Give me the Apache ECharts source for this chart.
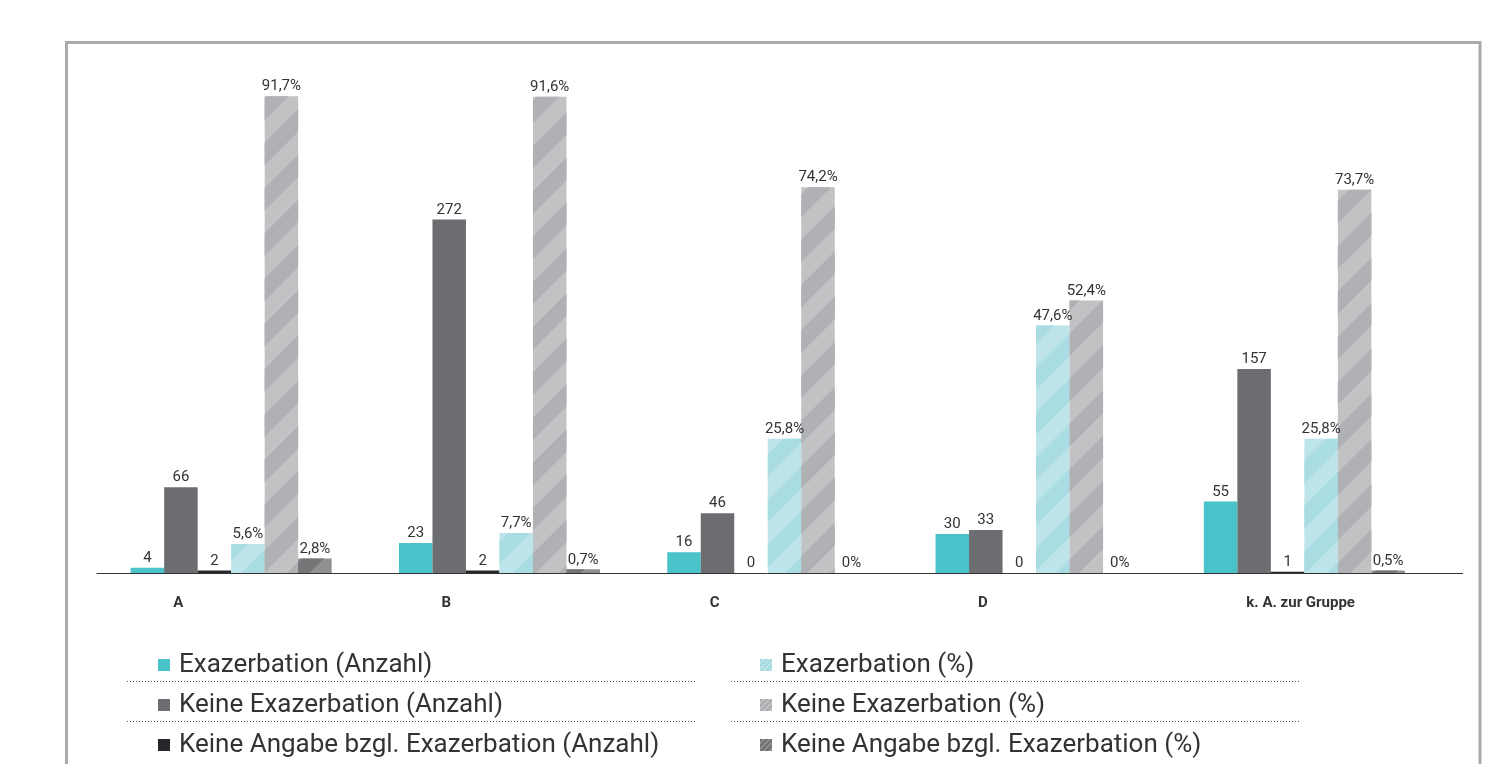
<!DOCTYPE html>
<html>
<head>
<meta charset="utf-8">
<script src="https://cdn.jsdelivr.net/npm/echarts@6/dist/echarts.min.js"></script>
<style>
  html, body { margin: 0; padding: 0; background: #fff; }
  #chart { width: 1509px; height: 764px; }
</style>
</head>
<body>
<div id="chart"></div>
<script>
var categories = ['A', 'B', 'C', 'D', 'k. A. zur Gruppe'];

var exaCount = [4, 23, 16, 30, 55];
var keineExaCount = [66, 272, 46, 33, 157];
var keineAngabeCount = [2, 2, 0, 0, 1];

var exaPct = [5.6, 7.7, 25.8, 47.6, 25.8];
var keineExaPct = [91.7, 91.6, 74.2, 52.4, 73.7];
var keineAngabePct = [2.8, 0.7, 0, 0, 0.5];

var seriesNames = [
    'Exazerbation (Anzahl)',
    'Keine Exazerbation (Anzahl)',
    'Keine Angabe bzgl. Exazerbation (Anzahl)',
    'Exazerbation (%)',
    'Keine Exazerbation (%)',
    'Keine Angabe bzgl. Exazerbation (%)'
];

var textColor = '#333333';
var fontFamily = 'Roboto, "Noto Sans", sans-serif';

function stripe(color, w) {
    return {
        symbol: 'rect',
        symbolSize: 1,
        dashArrayX: [1, 0],
        dashArrayY: [w, w],
        rotation: -Math.PI / 4,
        color: color
    };
}

function countLabel() {
    return {
        show: true,
        position: 'top',
        distance: 2,
        color: textColor,
        fontFamily: fontFamily,
        fontSize: 15
    };
}

function pctLabel() {
    return {
        show: true,
        position: 'top',
        distance: 2,
        color: textColor,
        fontFamily: fontFamily,
        fontSize: 15,
        formatter: function (p) {
            return String(p.value).replace('.', ',') + '%';
        }
    };
}

function makeBar(name, data, yIndex, color, decal, label) {
    var s = {
        name: name,
        type: 'bar',
        data: data,
        yAxisIndex: yIndex,
        barWidth: 33.5,
        barGap: '0%',
        itemStyle: { color: color },
        label: label
    };
    if (decal) s.itemStyle.decal = decal;
    return s;
}

function makeLegend(left, items) {
    return {
        orient: 'vertical',
        left: left,
        top: 645,
        height: 140,
        itemWidth: 12,
        itemHeight: 12,
        itemGap: 10,
        icon: 'rect',
        data: items,
        textStyle: { fontFamily: fontFamily, fontSize: 26, color: textColor, lineHeight: 30, padding: [0, 0, 0, 4] }
    };
}

function dotted(x1, x2, y) {
    return {
        type: 'line',
        shape: { x1: x1, y1: y, x2: x2, y2: y },
        style: { stroke: '#555555', lineWidth: 1, lineDash: [1, 2] },
        silent: true
    };
}

var chart = echarts.init(document.getElementById('chart'));

var option = {
    backgroundColor: '#ffffff',
    animation: false,
    grid: { left: 97, top: 53, width: 1341.5, bottom: 191 },
    xAxis: {
        type: 'category',
        data: categories,
        axisLine: { show: true, lineStyle: { color: '#333333', width: 1 } },
        axisTick: { show: false },
        axisLabel: {
            margin: 23,
            formatter: function (v) { return '{t|' + v + '}'; },
            rich: {
                t: {
                    width: 116,
                    align: 'left',
                    fontFamily: fontFamily,
                    fontWeight: 'bold',
                    fontSize: 15,
                    color: textColor
                }
            }
        }
    },
    yAxis: [
        { type: 'value', min: 0, max: 400, show: false, splitLine: { show: false } },
        { type: 'value', min: 0, max: 100, show: false, splitLine: { show: false } }
    ],
    legend: [
        makeLegend(153, seriesNames.slice(0, 3)),
        makeLegend(755, [
            { name: seriesNames[3], itemStyle: { decal: stripe('#a3d8df', 2) } },
            { name: seriesNames[4], itemStyle: { decal: stripe('#a9aaad', 2) } },
            { name: seriesNames[5], itemStyle: { decal: stripe('#6d6c6f', 2) } }
        ])
    ],
    graphic: [
        {
            type: 'rect',
            shape: { x: 66.5, y: 42.5, width: 1413.5, height: 800 },
            style: { fill: 'none', stroke: '#a9aaad', lineWidth: 3 },
            silent: true
        },
        {
            type: 'line',
            shape: { x1: 1438, y1: 573.5, x2: 1463, y2: 573.5 },
            style: { stroke: '#333333', lineWidth: 1 },
            silent: true
        },
        dotted(127, 697, 681.5),
        dotted(127, 697, 721.5),
        dotted(731, 1301, 681.5),
        dotted(731, 1301, 721.5)
    ],
    series: [
        makeBar(seriesNames[0], exaCount, 0, '#49c2ca', null, countLabel()),
        makeBar(seriesNames[1], keineExaCount, 0, '#6c6d70', null, countLabel()),
        makeBar(seriesNames[2], keineAngabeCount, 0, '#26272a', null, countLabel()),
        makeBar(seriesNames[3], exaPct, 1, '#bce4e9', stripe('#aadde3', 16), pctLabel()),
        makeBar(seriesNames[4], keineExaPct, 1, '#c1c2c4', stripe('#b0b1b4', 16), pctLabel()),
        makeBar(seriesNames[5], keineAngabePct, 1, '#918f92', stripe('#767578', 16), pctLabel())
    ]
};

chart.setOption(option);
</script>
</body>
</html>
